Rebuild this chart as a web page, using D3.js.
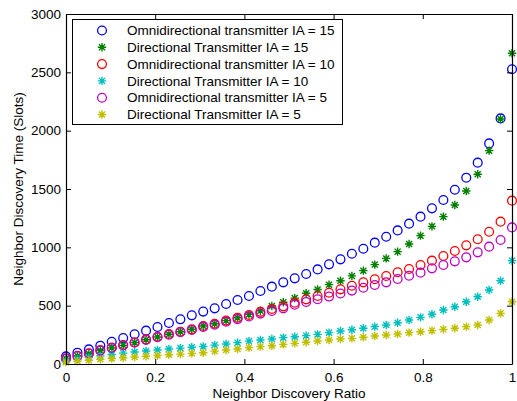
<!DOCTYPE html>
<html><head><meta charset="utf-8">
<script src="https://cdn.jsdelivr.net/npm/d3@7/dist/d3.min.js"></script>
<style>body{margin:0;background:#fff}svg{display:block}text{font-family:"Liberation Sans",Arial,Helvetica,sans-serif}</style>
</head><body><svg id="c" width="517" height="401"></svg>
<script>
const N = 40;
const ratios = d3.range(N).map(i => i / (N - 1));
const omni15 = [65,97,125,157,191,222,255,286,317,351,383,417,449,477,514,549,583,626,663,700,734,771,811,854,897,945,988,1040,1091,1145,1203,1263,1334,1406,1494,1597,1726,1891,2105,2526];
const dir15 = [47,68,88,115,137,160,184,208,232,255,276,298,326,345,372,397,425,456,497,529,565,606,638,680,714,755,800,852,905,963,1028,1100,1180,1263,1363,1483,1626,1829,2100,2663];
const omni10 = [49,71,91,120,140,163,186,211,234,257,277,297,326,345,372,397,420,447,471,494,526,554,583,611,640,671,700,726,754,786,814,849,886,926,969,1017,1069,1134,1220,1400];
const dir10 = [28,42,56,70,82,93,103,112,120,128,136,143,150,162,171,183,196,206,214,226,234,243,254,269,283,293,306,320,334,354,377,400,426,463,491,534,577,634,714,886];
const omni5 = [45,68,90,115,137,160,182,206,229,251,272,292,318,337,362,385,408,432,455,477,508,532,555,578,604,629,654,677,700,729,757,783,820,849,880,914,957,1006,1063,1171];
const dir5 = [15,24,32,40,47,54,60,66,73,79,85,91,97,110,120,129,140,149,157,168,177,186,197,206,214,220,229,240,249,257,269,277,286,297,306,320,334,377,434,534];
const seriesNames = ["Omnidirectional transmitter IA = 15","Directional Transmitter IA = 15","Omnidirectional transmitter IA = 10","Directional Transmitter IA = 10","Omnidirectional transmitter IA = 5","Directional Transmitter IA = 5"];
const seriesValues = [omni15, dir15, omni10, dir10, omni5, dir5];
const seriesColors = ["#0000ff","#008000","#ff0000","#00bfbf","#bf00bf","#bfbf00"];
const seriesMarkers = ["o","*","o","*","o","*"];
const xTicks = [0,0.2,0.4,0.6,0.8,1];
const yTicks = [0,500,1000,1500,2000,2500,3000];

const svg = d3.select("#c");
const L = 66, R = 512, T = 14, B = 364;
const x = d3.scaleLinear().domain([0,1]).range([L,R]);
const y = d3.scaleLinear().domain([0,3000]).range([B,T]);

function marker(g, type, color, cx, cy) {
  if (type === "o") {
    g.append("circle").attr("cx",cx).attr("cy",cy).attr("r",4.4)
      .attr("fill","none").attr("stroke",color).attr("stroke-width",1.3);
  } else {
    const r = 4.2, d = r*0.72;
    const p = `M${cx-r},${cy}L${cx+r},${cy}M${cx},${cy-r}L${cx},${cy+r}M${cx-d},${cy-d}L${cx+d},${cy+d}M${cx-d},${cy+d}L${cx+d},${cy-d}`;
    g.append("path").attr("d",p).attr("stroke",color).attr("stroke-width",1.4).attr("fill","none");
  }
}

const plot = svg.append("g");
seriesValues.forEach((vals, s) => {
  const g = plot.append("g");
  vals.forEach((v, i) => marker(g, seriesMarkers[s], seriesColors[s], x(ratios[i]), y(v)));
});

const fs = 13.5;
const ax = svg.append("g");
const axB = d3.axisBottom(x).tickValues(xTicks).tickSizeInner(-5).tickSizeOuter(0).tickPadding(8).tickFormat(d3.format("~g"));
const axT = d3.axisTop(x).tickValues(xTicks).tickSizeInner(-5).tickSizeOuter(0).tickFormat("");
const axL = d3.axisLeft(y).tickValues(yTicks).tickSizeInner(-5).tickSizeOuter(0).tickPadding(5).tickFormat(d3.format("d"));
const axR = d3.axisRight(y).tickValues(yTicks).tickSizeInner(-5).tickSizeOuter(0).tickFormat("");
ax.append("g").attr("transform",`translate(0,${B})`).call(axB);
ax.append("g").attr("transform",`translate(0,${T})`).call(axT);
ax.append("g").attr("transform",`translate(${L},0)`).call(axL);
ax.append("g").attr("transform",`translate(${R},0)`).call(axR);
ax.selectAll(".domain").attr("stroke","#000").attr("stroke-width",1.2);
ax.selectAll(".tick line").attr("stroke","#000");
ax.selectAll("text").attr("font-size",fs).attr("fill","#000").style("font-family",'"Liberation Sans",Arial,sans-serif');

svg.append("text").attr("x",(L+R)/2).attr("y",398).attr("text-anchor","middle").attr("font-size",fs).text("Neighbor Discovery Ratio");
svg.append("text").attr("transform",`translate(23,${(T+B)/2}) rotate(-90)`).attr("text-anchor","middle").attr("font-size",fs).text("Neighbor Discovery Time (Slots)");

const lg = svg.append("g");
lg.append("rect").attr("x",72.5).attr("y",19.5).attr("width",270).attr("height",105).attr("fill","#fff").attr("stroke","#000").attr("stroke-width",1);
seriesNames.forEach((n, s) => {
  const cy = 30.5 + s*16.8;
  marker(lg, seriesMarkers[s], seriesColors[s], 102, cy);
  lg.append("text").attr("x",127).attr("y",cy).attr("dy","0.35em").attr("font-size",fs).text(n);
});
</script></body></html>
